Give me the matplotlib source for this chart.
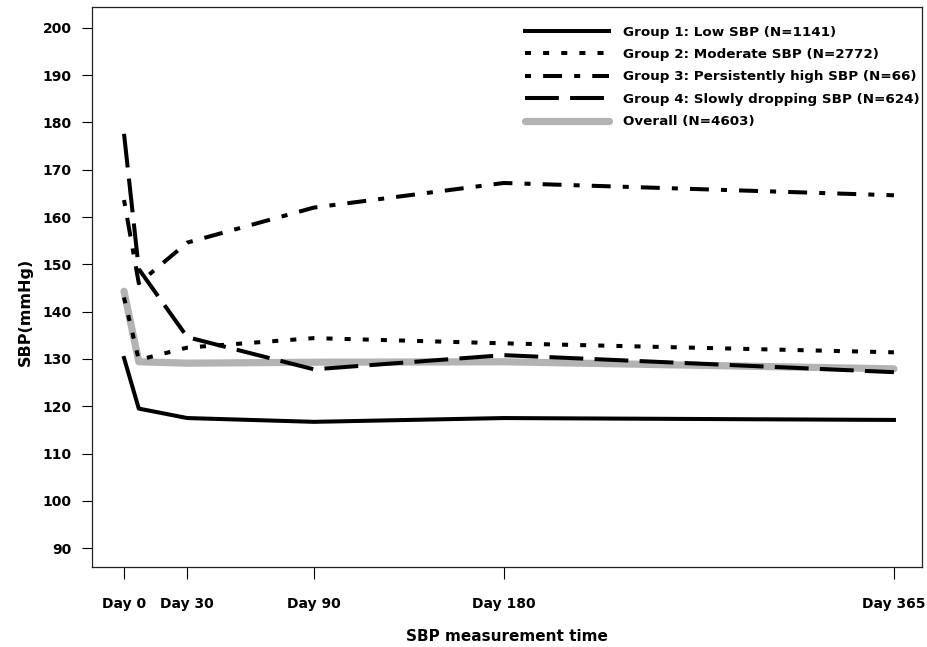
import matplotlib
matplotlib.use("Agg")
import matplotlib.pyplot as plt

days = [0, 7, 30, 90, 180, 365]
tick_days = [0, 30, 90, 180, 365]
tick_labels = ["Day 0", "Day 30", "Day 90", "Day 180", "Day 365"]

g1 = [130.2, 119.5, 117.5, 116.7, 117.5, 117.1]
g2 = [143.0, 129.8, 132.4, 134.4, 133.3, 131.4]
g3 = [163.6, 146.0, 154.6, 162.0, 167.2, 164.6]
g4 = [177.6, 149.0, 134.6, 127.8, 130.8, 127.2]
overall = [144.3, 129.4, 129.1, 129.3, 129.4, 127.9]

labels = ["Group 1: Low SBP (N=1141)",
          "Group 2: Moderate SBP (N=2772)",
          "Group 3: Persistently high SBP (N=66)",
          "Group 4: Slowly dropping SBP (N=624)",
          "Overall (N=4603)"]

plt.rcParams['font.family'] = 'DejaVu Sans'
plt.rcParams['font.weight'] = 'bold'

fig = plt.figure(figsize=(9.27, 6.47), dpi=100)
ax = fig.add_axes([0.0992, 0.1236, 0.8954, 0.8655])

lw = 2.9
ax.plot(days, overall, color="#b3b3b3", lw=5.2, solid_capstyle="round", label=labels[4], zorder=1)
ax.plot(days, g1, color="black", lw=lw, label=labels[0], zorder=2)
ax.plot(days, g2, color="black", lw=lw, linestyle=(0, (1.5, 3.0)), label=labels[1], zorder=2)
ax.plot(days, g3, color="black", lw=lw, linestyle=(0, (1.5, 3.0, 4.7, 3.0)), label=labels[2], zorder=2)
ax.plot(days, g4, color="black", lw=lw, linestyle=(0, (8.4, 2.8)), label=labels[3], zorder=2)

ax.set_xlim(-15.2, 378.3)
ax.set_ylim(86.0, 204.4)
ax.set_xticks(tick_days)
ax.set_xticklabels(tick_labels, fontsize=10, fontweight="bold")
ax.set_yticks(range(90, 201, 10))
ax.set_yticklabels([str(v) for v in range(90, 201, 10)], fontsize=10, fontweight="bold")
ax.tick_params(axis="x", length=8.5, width=0.8, pad=13)
ax.tick_params(axis="y", length=7.5, width=0.8, pad=7)
for s in ax.spines.values():
    s.set_linewidth(0.9)
    s.set_color("#222222")

ax.set_xlabel("SBP measurement time", fontsize=11, fontweight="bold", labelpad=13)
ax.text(-0.0807, 0.455, "SBP(mmHg)", transform=ax.transAxes, rotation=90,
        ha="center", va="center", fontsize=11.5, fontweight="bold")

h, l = ax.get_legend_handles_labels()
order = [1, 2, 3, 4, 0]
ax.legend([h[i] for i in order], [l[i] for i in order], loc="upper left",
          bbox_to_anchor=(0.5217, 0.967), frameon=False, borderpad=0, borderaxespad=0,
          handlelength=6.2, handletextpad=1.1, labelspacing=0.7,
          prop={"size": 9.7, "weight": "bold"})

fig.savefig("out.png", dpi=100)
